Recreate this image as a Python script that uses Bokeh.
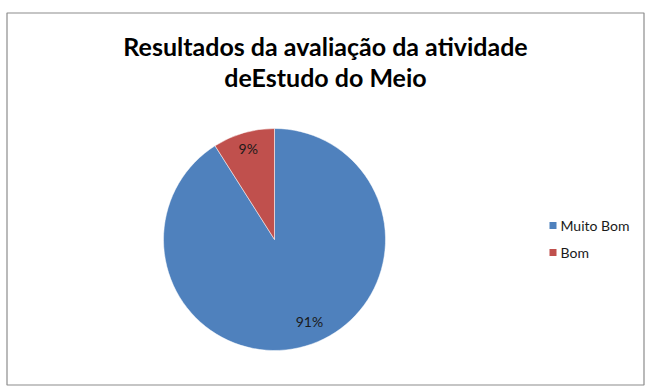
import math
from bokeh.plotting import figure
from bokeh.models import Range1d
from bokeh.core.properties import value
from bokeh.embed import file_html
from bokeh.resources import INLINE

# data
categories = ["Muito Bom", "Bom"]
shares = [91, 9]
labels = ["91%", "9%"]
colors = ["#4F81BD", "#C0504D"]
title_lines = ["Resultados da avaliação da atividade", "deEstudo do Meio"]

W, H = 650, 391
p = figure(width=W, height=H, output_backend="svg", toolbar_location=None,
           x_range=Range1d(0, W), y_range=Range1d(0, H), min_border=0)
p.axis.visible = False
p.grid.visible = False
p.outline_line_color = None
p.background_fill_color = "white"
p.border_fill_color = "white"

def Y(py):
    return H - py

# chart border
p.quad(left=[6.5], right=[643.5], top=[Y(12.5)], bottom=[Y(384.5)],
       fill_color=None, line_color="#8c8c8c", line_width=1.2)

# title
for i, t in enumerate(title_lines):
    p.text(x=[W / 2], y=[Y(45 + i * 31)], text=[t], text_align="center",
           text_baseline="middle", text_font=value("Lato"), text_font_style="bold",
           text_font_size="25px", text_color="#000000")

# pie
cx, cy, R = 274, Y(239), 111
total = sum(shares)
start = math.pi / 2
starts, ends, mids = [], [], []
for s in shares:
    ang = 2 * math.pi * s / total
    starts.append(start)
    ends.append(start - ang)
    mids.append(start - ang / 2)
    start -= ang
p.wedge(x=[cx] * len(shares), y=[cy] * len(shares), radius=R,
        start_angle=starts, end_angle=ends, direction="clock",
        fill_color=colors, line_color="white", line_width=0.5)

# data labels
label_r = [0.80, 0.85]
label_da = [math.radians(7), 0.0]
for i, lab in enumerate(labels):
    a = mids[i] + label_da[i]
    rr = R * label_r[i]
    p.text(x=[cx + rr * math.cos(a)], y=[cy + rr * math.sin(a)], text=[lab],
           text_align="center", text_baseline="middle", text_font=value("Lato"),
           text_font_size="14px", text_color="#1a1a1a")

# legend
for i, c in enumerate(categories):
    ly = Y(225 + i * 27)
    p.rect(x=[552.5], y=[ly], width=7, height=7, fill_color=colors[i], line_color=None)
    p.text(x=[560], y=[ly], text=[c], text_align="left", text_baseline="middle",
           text_font=value("Lato"), text_font_size="14px", text_color="#1a1a1a")

open("out.html", "w").write(file_html(p, INLINE))
